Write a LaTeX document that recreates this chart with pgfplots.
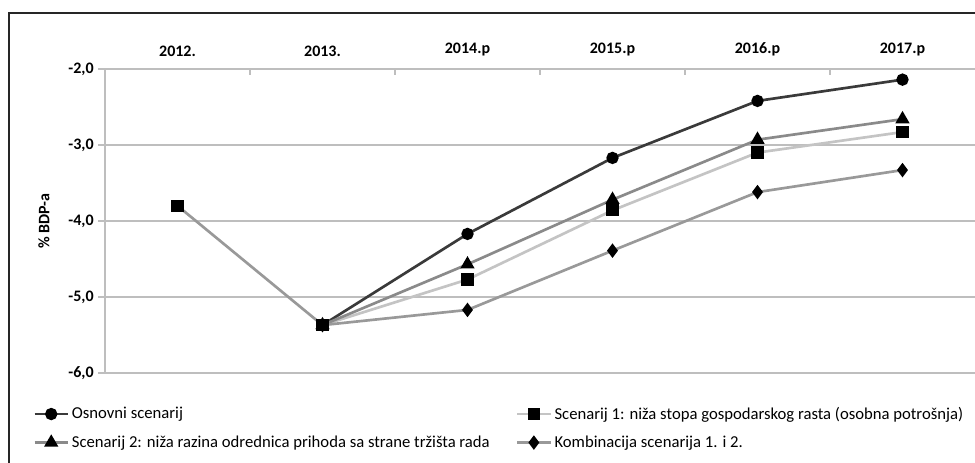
\documentclass[border=0pt]{standalone}
\usepackage{pgfplots}
\pgfplotsset{compat=1.18}
\usepackage{fontspec}
\setmainfont{Carlito}
\definecolor{cOsn}{HTML}{3A3A3A}
\definecolor{cS1}{HTML}{C4C4C4}
\definecolor{cS2}{HTML}{8A8A8A}
\definecolor{cK}{HTML}{999999}
\definecolor{cGrid}{HTML}{BEBEBE}
\begin{document}
\begin{tikzpicture}
\path[use as bounding box] (0pt,0pt) rectangle (731.25pt,347.25pt);
\draw[line width=1.5pt,black!85] (6.75pt,-5pt) -- (6.75pt,337.5pt) -- (735pt,337.5pt);
\begin{axis}[
  at={(78.75pt,67.5pt)}, anchor=south west,
  scale only axis, width=652.5pt, height=228pt,
  xmin=-0.5, xmax=5.5, ymin=-6, ymax=-2,
  axis x line*=top, axis y line*=left,
  axis line style={cGrid, line width=1pt},
  xtick={0,1,2,3,4,5},
  xticklabels={2012.,2013.,2014.p,2015.p,2016.p,2017.p},
  xticklabel pos=top,
  xticklabel style={font=\bfseries\fontsize{12}{14}\selectfont, yshift=1pt},
  major x tick style={draw=none},
  minor xtick={0.5,1.5,2.5,3.5,4.5},
  minor x tick style={cGrid, line width=1pt, yshift=-4.5pt},
  minor tick length=4.5pt,
  ytick={-6,-5,-4,-3,-2},
  ymajorgrids, grid style={cGrid, line width=1pt},
  major y tick style={cGrid, line width=1pt},
  major tick length=5pt,
  tick align=outside,
  yticklabel style={font=\bfseries\fontsize{12}{14}\selectfont},
  /pgf/number format/.cd, fixed, fixed zerofill, precision=1, use comma, assume math mode=true,
  /pgfplots/.cd,
  ylabel={\bfseries\fontsize{12}{14}\selectfont \% BDP-a},
  ylabel style={at={(axis description cs:-0.0701,0.5)}, anchor=center},
  clip=false,
  legend columns=2,
  legend style={draw=none, fill=none, inner sep=0pt, at={(-0.0828,-0.102)}, anchor=north west,
    font=\fontsize{12.5}{14}\selectfont, row sep=7pt,
    /tikz/every even column/.append style={column sep=9pt}},
  legend cell align=left,
  legend image code/.code={\draw[mark repeat=2,mark phase=2] plot coordinates {(0pt,0pt)(12.5pt,0pt)(25pt,0pt)};},
]
\addplot[cK, line width=2pt, mark=square*, mark size=3.6pt, mark options={fill=black,draw=black}, forget plot]
  coordinates {(0,-3.80)(1,-5.37)};
\addplot[cOsn, line width=2pt, mark=*, mark size=3.6pt, mark options={fill=black,draw=black}]
  coordinates {(1,-5.37)(2,-4.17)(3,-3.17)(4,-2.42)(5,-2.14)};
\addlegendentry{\makebox[322pt][l]{Osnovni scenarij}}
\addplot[cS1, line width=2pt, mark=square*, mark size=3.6pt, mark options={fill=black,draw=black}]
  coordinates {(1,-5.37)(2,-4.77)(3,-3.86)(4,-3.10)(5,-2.83)};
\addlegendentry{Scenarij 1: niža stopa gospodarskog rasta (osobna potrošnja)}
\addplot[cS2, line width=2pt, mark=triangle*, mark size=4.2pt, mark options={fill=black,draw=black}]
  coordinates {(1,-5.37)(2,-4.57)(3,-3.72)(4,-2.93)(5,-2.66)};
\addlegendentry{\makebox[322pt][l]{Scenarij 2: niža razina odrednica prihoda sa strane tržišta rada}}
\addplot[cK, line width=2pt, mark=diamond*, mark size=3.8pt, mark options={fill=black,draw=black}]
  coordinates {(1,-5.37)(2,-5.17)(3,-4.39)(4,-3.62)(5,-3.33)};
\addlegendentry{Kombinacija scenarija 1. i 2.}
\end{axis}
\end{tikzpicture}
\end{document}
